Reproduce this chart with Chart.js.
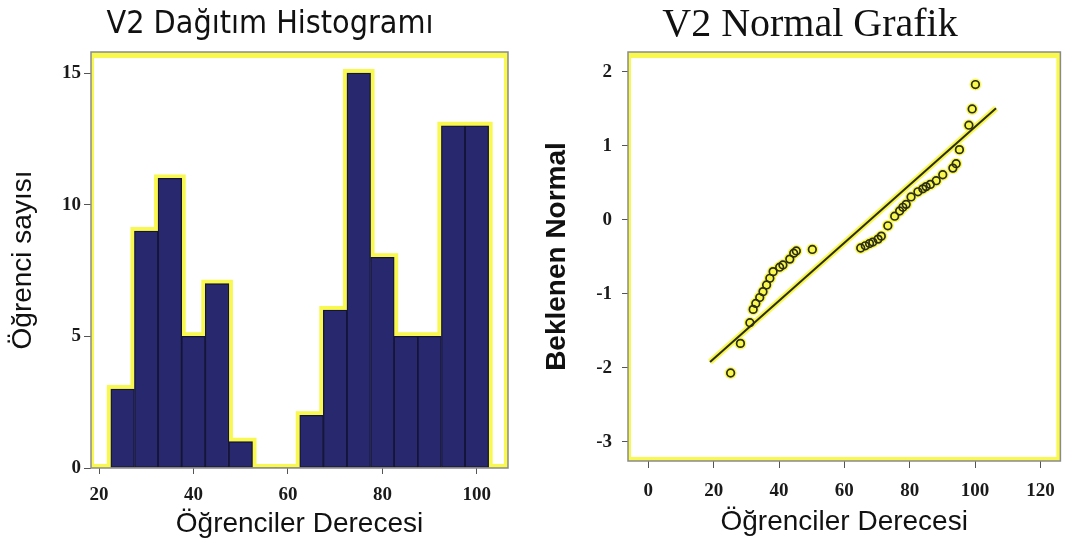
<!DOCTYPE html>
<html>
<head>
<meta charset="utf-8">
<script src="https://cdn.jsdelivr.net/npm/chart.js@4"></script>
<style>
  body { margin: 0; background: #fff; }
  #hist { position: absolute; left: 0; top: 0; }
  #normal { position: absolute; left: 535px; top: 0; }
</style>
</head>
<body>
<canvas id="hist" width="535" height="549"></canvas>
<canvas id="normal" width="532" height="549"></canvas>
<script>
// Histogram data (bin centres and counts)
const histBins = [25, 30, 35, 40, 45, 50, 55, 60, 65, 70, 75, 80, 85, 90, 95, 100];
const histCounts = [3, 9, 11, 5, 7, 1, 0, 0, 2, 6, 15, 8, 5, 5, 13, 13];
const binWidth = 5;
const histXTicks = [20, 40, 60, 80, 100];
const histYTicks = [0, 5, 10, 15];

// Normal plot data
const qqScores = [25.2, 28.2, 31.1, 32.1, 32.9, 34.1, 35.1, 36.2, 37.2, 38.2, 40.2, 41.2, 43.3, 44.5, 45.3, 50.2,
  65.0, 66.4, 67.7, 68.7, 70.3, 71.3, 73.3, 75.4, 76.9, 77.9, 78.9, 80.4, 82.5, 84.0, 85.0, 86.3, 88.1, 90.1,
  93.2, 94.2, 95.2, 98.1, 99.1, 100.1];
const qqExpected = [-2.07, -1.67, -1.39, -1.21, -1.13, -1.05, -0.97, -0.88, -0.79, -0.70, -0.64, -0.61, -0.53, -0.45, -0.42, -0.40,
  -0.38, -0.35, -0.32, -0.30, -0.26, -0.22, -0.08, 0.05, 0.12, 0.17, 0.21, 0.31, 0.38, 0.42, 0.45, 0.48, 0.53, 0.61,
  0.70, 0.76, 0.95, 1.28, 1.50, 1.83];
const fitLineX = [18.9, 106.4];
const fitLineY = [-1.92, 1.51];
const qqXTicks = [0, 20, 40, 60, 80, 100, 120];
const qqYTicks = [-3, -2, -1, 0, 1, 2];

const YELLOW = '#f8f84e';
const DARK = '#2d2d14';
const tickFont = { family: 'Liberation Serif', size: 19, weight: 'bold' };

// Yellow inner band + grey frame around the plot area
const framePlugin = {
  id: 'frame',
  beforeDatasetsDraw(chart) {
    const { ctx, chartArea: a } = chart;
    ctx.save();
    ctx.fillStyle = YELLOW;
    ctx.fillRect(a.left, a.top, a.right - a.left, 6);
    ctx.fillRect(a.left, a.top, 3, a.bottom - a.top);
    ctx.fillRect(a.right - 4, a.top, 4, a.bottom - a.top);
    ctx.fillRect(a.left, a.bottom - 4, a.right - a.left, 4);
    ctx.restore();
  },
  afterDatasetsDraw(chart) {
    const { ctx, chartArea: a } = chart;
    ctx.save();
    ctx.strokeStyle = '#8a8a8a';
    ctx.lineWidth = 1.5;
    ctx.strokeRect(a.left, a.top, a.right - a.left, a.bottom - a.top);
    ctx.restore();
  }
};

function fixedTicks(values) {
  return function(scale) {
    scale.ticks = values.map(v => ({ value: v }));
  };
}

// Outline of the histogram (drawn as a thick yellow step line behind the bars)
const outline = [{ x: histBins[0] - binWidth / 2, y: 0 }];
histBins.forEach((b, i) => outline.push({ x: b - binWidth / 2, y: histCounts[i] }));
outline.push({ x: histBins[histBins.length - 1] + binWidth / 2, y: 0 });

new Chart(document.getElementById('hist'), {
  type: 'bar',
  data: {
    datasets: [{
      data: histBins.map((b, i) => ({ x: b, y: histCounts[i] })),
      backgroundColor: '#28286e',
      borderColor: '#15153a',
      borderWidth: ctx => (ctx.raw && ctx.raw.y ? 1.3 : 0),
      borderSkipped: false,
      barPercentage: 1,
      categoryPercentage: 1,
      order: 1
    }, {
      type: 'line',
      data: outline,
      borderColor: YELLOW,
      borderWidth: 8,
      stepped: true,
      pointRadius: 0,
      fill: false,
      order: 2
    }]
  },
  options: {
    responsive: false,
    animation: false,
    layout: { padding: { left: 32, right: 27, top: 0, bottom: 0 } },
    scales: {
      x: {
        type: 'linear',
        offset: false,
        min: 18.3,
        max: 106.6,
        afterBuildTicks: fixedTicks(histXTicks),
        afterFit: scale => { scale.height = 81; },
        grid: { drawOnChartArea: false, drawTicks: true, tickLength: 6, color: '#555', offset: false },
        border: { display: false },
        ticks: { font: tickFont, color: '#1a1a1a', padding: 10, maxRotation: 0 },
        title: {
          display: true,
          text: 'Öğrenciler Derecesi',
          font: { family: 'Liberation Sans', size: 28 },
          color: '#111',
          padding: { top: 0, bottom: 8 }
        }
      },
      y: {
        min: 0,
        max: 15.8,
        afterBuildTicks: fixedTicks(histYTicks),
        afterFit: scale => { scale.width = 59; },
        grid: { drawOnChartArea: false, drawTicks: true, tickLength: 7, color: '#555' },
        border: { display: false },
        ticks: { font: tickFont, color: '#1a1a1a', padding: 3 },
        title: {
          display: true,
          text: 'Öğrenci sayısı',
          font: { family: 'Liberation Sans', size: 28 },
          color: '#111',
          padding: { top: -26, bottom: 0 }
        }
      }
    },
    plugins: {
      legend: { display: false },
      tooltip: { enabled: false },
      title: {
        display: true,
        text: 'V2 Dağıtım Histogramı',
        font: { family: "'Liberation Sans Narrow', 'Arial Narrow', 'DejaVu Sans Condensed', sans-serif", size: 32, weight: 'normal' },
        color: '#111',
        padding: { top: 5, bottom: 8.6 }
      }
    }
  },
  plugins: [framePlugin]
});

const qqPoints = qqScores.map((s, i) => ({ x: s, y: qqExpected[i] }));
const fitPoints = fitLineX.map((x, i) => ({ x: x, y: fitLineY[i] }));

new Chart(document.getElementById('normal'), {
  type: 'scatter',
  data: {
    datasets: [{
      data: qqPoints,
      pointRadius: 3.8,
      pointBorderWidth: 1.7,
      pointBorderColor: DARK,
      pointBackgroundColor: 'rgba(0,0,0,0)',
      order: 1
    }, {
      type: 'line',
      data: fitPoints,
      borderColor: DARK,
      borderWidth: 2,
      pointRadius: 0,
      fill: false,
      order: 2
    }, {
      data: qqPoints,
      pointRadius: 6,
      pointBorderWidth: 0,
      pointBackgroundColor: YELLOW,
      order: 3
    }, {
      type: 'line',
      data: fitPoints,
      borderColor: YELLOW,
      borderWidth: 6,
      pointRadius: 0,
      fill: false,
      order: 4
    }]
  },
  options: {
    responsive: false,
    animation: false,
    layout: { padding: { left: 23, right: 5, top: 0, bottom: 0 } },
    scales: {
      x: {
        type: 'linear',
        min: -6.2,
        max: 126.1,
        afterBuildTicks: fixedTicks(qqXTicks),
        afterFit: scale => { scale.height = 88; },
        grid: { drawOnChartArea: false, drawTicks: true, tickLength: 7, color: '#555' },
        border: { display: false },
        ticks: { font: tickFont, color: '#1a1a1a', padding: 12, maxRotation: 0 },
        title: {
          display: true,
          text: 'Öğrenciler Derecesi',
          font: { family: 'Liberation Sans', size: 28 },
          color: '#111',
          padding: { top: 0, bottom: 10 }
        }
      },
      y: {
        min: -3.26,
        max: 2.27,
        afterBuildTicks: fixedTicks(qqYTicks),
        afterFit: scale => { scale.width = 70; },
        grid: { drawOnChartArea: false, drawTicks: true, tickLength: 6, color: '#555' },
        border: { display: false },
        ticks: { font: tickFont, color: '#1a1a1a', padding: 10 },
        title: {
          display: true,
          text: 'Beklenen Normal',
          font: { family: 'Liberation Sans', size: 28, weight: 'bold' },
          color: '#111',
          padding: { top: -18, bottom: 0 }
        }
      }
    },
    plugins: {
      legend: { display: false },
      tooltip: { enabled: false },
      title: {
        display: true,
        text: 'V2 Normal Grafik',
        font: { family: 'Liberation Serif', size: 40, weight: 'normal' },
        color: '#111',
        padding: { top: 1, bottom: 3 }
      }
    }
  },
  plugins: [framePlugin]
});
</script>
</body>
</html>
